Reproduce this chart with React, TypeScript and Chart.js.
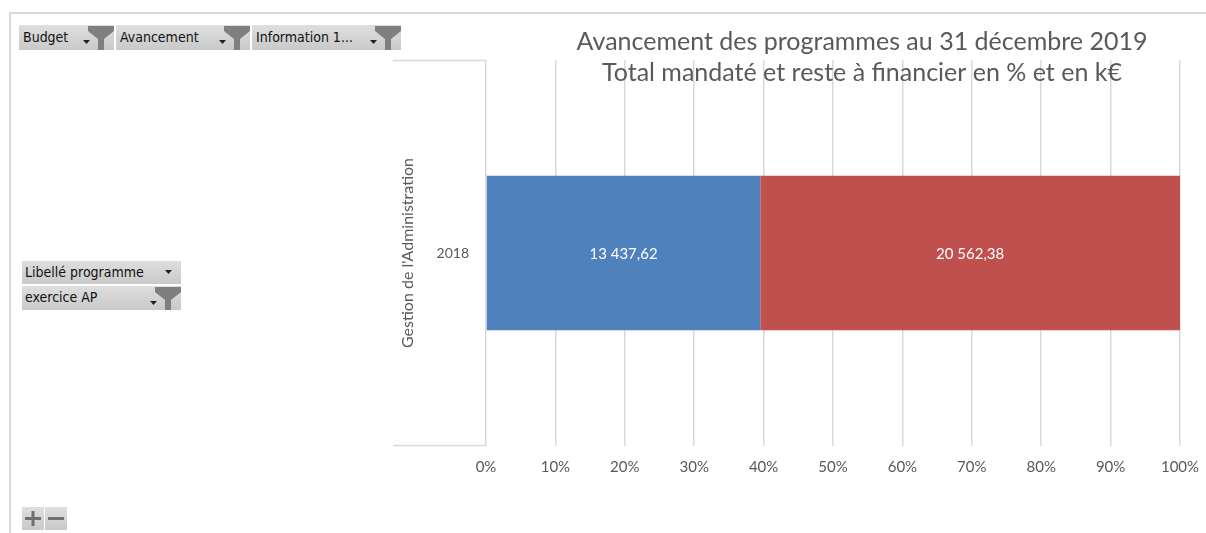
import React, { useEffect, useRef } from "react";
import { Chart, registerables } from "chart.js";

Chart.register(...registerables);

const categories = ["2018"];
const outerCategory = "Gestion de l'Administration";
const seriesNames = ["Total mandaté", "Reste à financier"];
const mandateValues = [13437.62];
const resteValues = [20562.38];
const seriesColors = ["#4F81BD", "#C0504D"];
const titleLines = [
  "Avancement des programmes au 31 décembre 2019",
  "Total mandaté et reste à financier en % et en k€",
];
const topFilters = ["Budget", "Avancement", "Information 1..."];

const TEXT = "#595959";
const GRID = "#d9d9d9";
const FONT = "Lato, 'Open Sans', sans-serif";

function fmt(v: number): string {
  const [i, d] = v.toFixed(2).split(".");
  return i.replace(/\B(?=(\d{3})+(?!\d))/g, " ") + "," + d;
}

const totals = categories.map((_, i) => mandateValues[i] + resteValues[i]);
const pct = (arr: number[]) => arr.map((v, i) => (v / totals[i]) * 100);

const Funnel = ({ x }: { x: number }) => (
  <svg width="26" height="24" style={{ position: "absolute", left: x, top: 1 }}>
    <polygon points="0,0 26,0 26,5 16,13 16,24 10,24 10,13 0,5" fill="#7f7f7f" />
  </svg>
);

const Arrow = ({ x, y }: { x: number; y: number }) => (
  <svg width="7" height="4" style={{ position: "absolute", left: x, top: y }}>
    <polygon points="0,0 7,0 3.5,4" fill="#222" />
  </svg>
);

const btnBase: React.CSSProperties = {
  position: "absolute",
  background: "linear-gradient(#dedede, #c9c9c9)",
  fontFamily: "'DejaVu Sans Condensed', 'Liberation Sans', sans-serif",
  fontSize: 14,
  color: "#111",
  boxSizing: "border-box",
  whiteSpace: "nowrap",
  overflow: "hidden",
};

export default function App() {
  const ref = useRef<HTMLCanvasElement | null>(null);

  useEffect(() => {
    if (!ref.current) return;
    const extras = {
      id: "extras",
      afterDraw(chart: any) {
        const { ctx, chartArea } = chart;
        ctx.save();
        // multi-level category separators
        ctx.strokeStyle = GRID;
        ctx.lineWidth = 1.5;
        ctx.beginPath();
        ctx.moveTo(chartArea.left - 93, chartArea.top + 0.5);
        ctx.lineTo(chartArea.left, chartArea.top + 0.5);
        ctx.moveTo(chartArea.left - 93, chartArea.bottom - 0.5);
        ctx.lineTo(chartArea.left, chartArea.bottom - 0.5);
        ctx.stroke();
        // data labels
        ctx.fillStyle = "#ffffff";
        ctx.font = `15px ${FONT}`;
        ctx.textAlign = "center";
        ctx.textBaseline = "middle";
        const raw = [mandateValues, resteValues];
        chart.data.datasets.forEach((_: any, di: number) => {
          const meta = chart.getDatasetMeta(di);
          meta.data.forEach((el: any, i: number) => {
            ctx.fillText(fmt(raw[di][i]), (el.x + el.base) / 2, el.y + 1);
          });
        });
        // title
        ctx.fillStyle = TEXT;
        ctx.font = `25px ${FONT}`;
        titleLines.forEach((t, i) => ctx.fillText(t, 862, 42 + i * 31));
        ctx.restore();
      },
    };
    const chart = new Chart(ref.current, {
      type: "bar",
      data: {
        labels: categories,
        datasets: [
          { label: seriesNames[0], data: pct(mandateValues), backgroundColor: seriesColors[0] },
          { label: seriesNames[1], data: pct(resteValues), backgroundColor: seriesColors[1] },
        ],
      },
      options: {
        indexAxis: "y",
        responsive: false,
        animation: false,
        events: [],
        layout: { padding: { left: 398, right: 26, top: 60, bottom: 47 } },
        datasets: { bar: { categoryPercentage: 1, barPercentage: 0.4 } },
        plugins: { legend: { display: false }, tooltip: { enabled: false }, title: { display: false } },
        scales: {
          x: {
            type: "linear",
            stacked: true,
            min: 0,
            max: 100,
            ticks: {
              stepSize: 10,
              callback: (v: any) => v + "%",
              color: TEXT,
              font: { family: FONT, size: 15 },
              padding: 12,
            },
            grid: { color: GRID, lineWidth: 1.5, drawTicks: false },
            border: { display: false },
            afterFit: (s: any) => {
              s.height = 40;
              s.paddingRight = 0;
              s.paddingLeft = 0;
            },
          },
          y: {
            stacked: true,
            ticks: { color: TEXT, font: { family: FONT, size: 14 }, padding: 9 },
            grid: { display: false },
            border: { display: false },
            title: {
              display: true,
              text: outerCategory,
              color: TEXT,
              font: { family: FONT, size: 16 },
              padding: 0,
            },
            afterFit: (s: any) => {
              s.width = 88;
            },
          },
        },
      },
      plugins: [extras],
    } as any);
    return () => chart.destroy();
  }, []);

  const topBtns = [
    { left: 19, width: 95 },
    { left: 116, width: 134 },
    { left: 252, width: 149 },
  ];

  return (
    <div style={{ position: "absolute", left: 0, top: 0, width: 1206, height: 533, background: "#fff", overflow: "hidden" }}>
      <div
        style={{
          position: "absolute",
          left: 9,
          top: 12,
          width: 1210,
          height: 540,
          borderTop: `2px solid ${GRID}`,
          borderLeft: `2px solid ${GRID}`,
        }}
      />
      <canvas ref={ref} width={1206} height={533} style={{ position: "absolute", left: 0, top: 0 }} />
      {topFilters.map((t, i) => (
        <div key={t} style={{ ...btnBase, left: topBtns[i].left, top: 25, width: topBtns[i].width, height: 25 }}>
          <span style={{ position: "absolute", left: 4, top: 4 }}>{t}</span>
          <Arrow x={topBtns[i].width - 31} y={15} />
          <Funnel x={topBtns[i].width - 26} />
        </div>
      ))}
      <div style={{ ...btnBase, left: 22, top: 261, width: 159, height: 23 }}>
        <span style={{ position: "absolute", left: 3, top: 3 }}>Libellé programme</span>
        <Arrow x={143} y={9} />
      </div>
      <div style={{ ...btnBase, left: 22, top: 286, width: 159, height: 24 }}>
        <span style={{ position: "absolute", left: 3, top: 3 }}>exercice AP</span>
        <Arrow x={128} y={15} />
        <Funnel x={133} />
      </div>
      <div style={{ ...btnBase, left: 22, top: 507, width: 22, height: 23 }}>
        <svg width="22" height="23" style={{ position: "absolute", left: 0, top: 0 }}>
          <rect x="3" y="10" width="16" height="3" fill="#6f6f6f" />
          <rect x="9.5" y="4" width="3" height="15" fill="#6f6f6f" />
        </svg>
      </div>
      <div style={{ ...btnBase, left: 45, top: 507, width: 22, height: 23 }}>
        <svg width="22" height="23" style={{ position: "absolute", left: 0, top: 0 }}>
          <rect x="3" y="10" width="16" height="3" fill="#6f6f6f" />
        </svg>
      </div>
    </div>
  );
}
